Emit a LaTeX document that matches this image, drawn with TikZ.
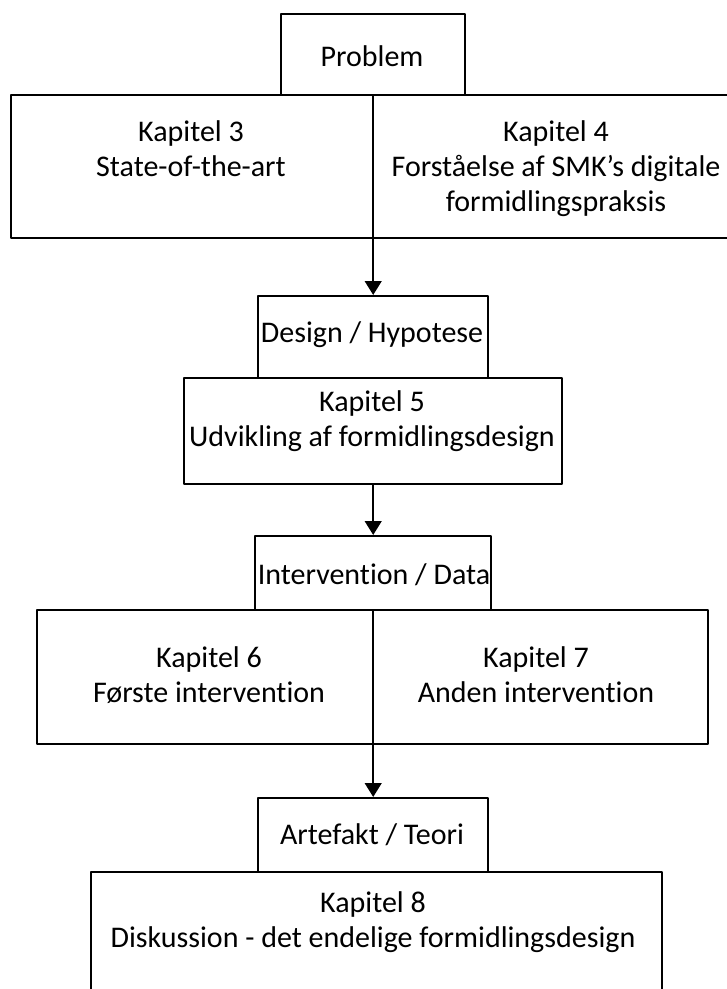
\documentclass[tikz,border=0pt]{standalone}
\usepackage{fontspec}
\setmainfont[Ligatures=NoCommon]{Carlito}
\usetikzlibrary{arrows.meta}

\begin{document}
\begin{tikzpicture}[x=0.75pt, y=-0.75pt]

\def\px{0.75pt}

\tikzset{
	box/.style={draw, line width=1.8pt, line join=round, inner sep=0pt, anchor=north west},
	txt/.style={anchor=base, align=center, inner sep=0pt, font=\fontsize{22.5}{26.25}\selectfont},
	flow/.style={line width=1.8pt, -{Triangle[length=10.5pt, width=12.5pt]}}
}

\path [use as bounding box] (0,0) rectangle (727,989);

% BOXES
\node [box, minimum width=184*\px, minimum height=81*\px] (problem) at (280,13) {};
\node [box, minimum width=729*\px, minimum height=143*\px] (chapters34) at (10,94) {};
\node [box, minimum width=230*\px, minimum height=82*\px] (design) at (257,295) {};
\node [box, minimum width=378*\px, minimum height=106*\px] (chapter5) at (183,377) {};
\node [box, minimum width=236*\px, minimum height=74*\px] (intervention) at (254,535) {};
\node [box, minimum width=671*\px, minimum height=134*\px] (chapters67) at (36,609) {};
\node [box, minimum width=230*\px, minimum height=74*\px] (artefact) at (257,797) {};
\node [box, minimum width=571*\px, minimum height=140*\px] (chapter8) at (90,871) {};

% TEXTS (base = last line)
\node [txt] (problem-t) at (372,66) {Problem};
\node [txt] (chapter3-t) at (191,176) {Kapitel 3\\State-of-the-art};
\node [txt] (chapter4-t) at (556,211) {Kapitel 4\\Forståelse af SMK’s digitale\\formidlingspraksis};
\node [txt] (design-t) at (372,342) {Design / Hypotese};
\node [txt] (chapter5-t) at (372,446) {Kapitel 5\\Udvikling af formidlingsdesign};
\node [txt] (intervention-t) at (374,584) {Intervention / Data};
\node [txt] (chapter6-t) at (209,702) {Kapitel 6\\Første intervention};
\node [txt] (chapter7-t) at (536,702) {Kapitel 7\\Anden intervention};
\node [txt] (artefact-t) at (372,844) {Artefakt / Teori};
\node [txt] (chapter8-t) at (373,947) {Kapitel 8\\Diskussion - det endelige formidlingsdesign};

% ARROWS
\draw [flow] (problem.south) -- (design.north);
\draw [flow] (chapter5.south) -- (intervention.north);
\draw [flow] (intervention.south) -- (artefact.north);

\end{tikzpicture}
\end{document}
